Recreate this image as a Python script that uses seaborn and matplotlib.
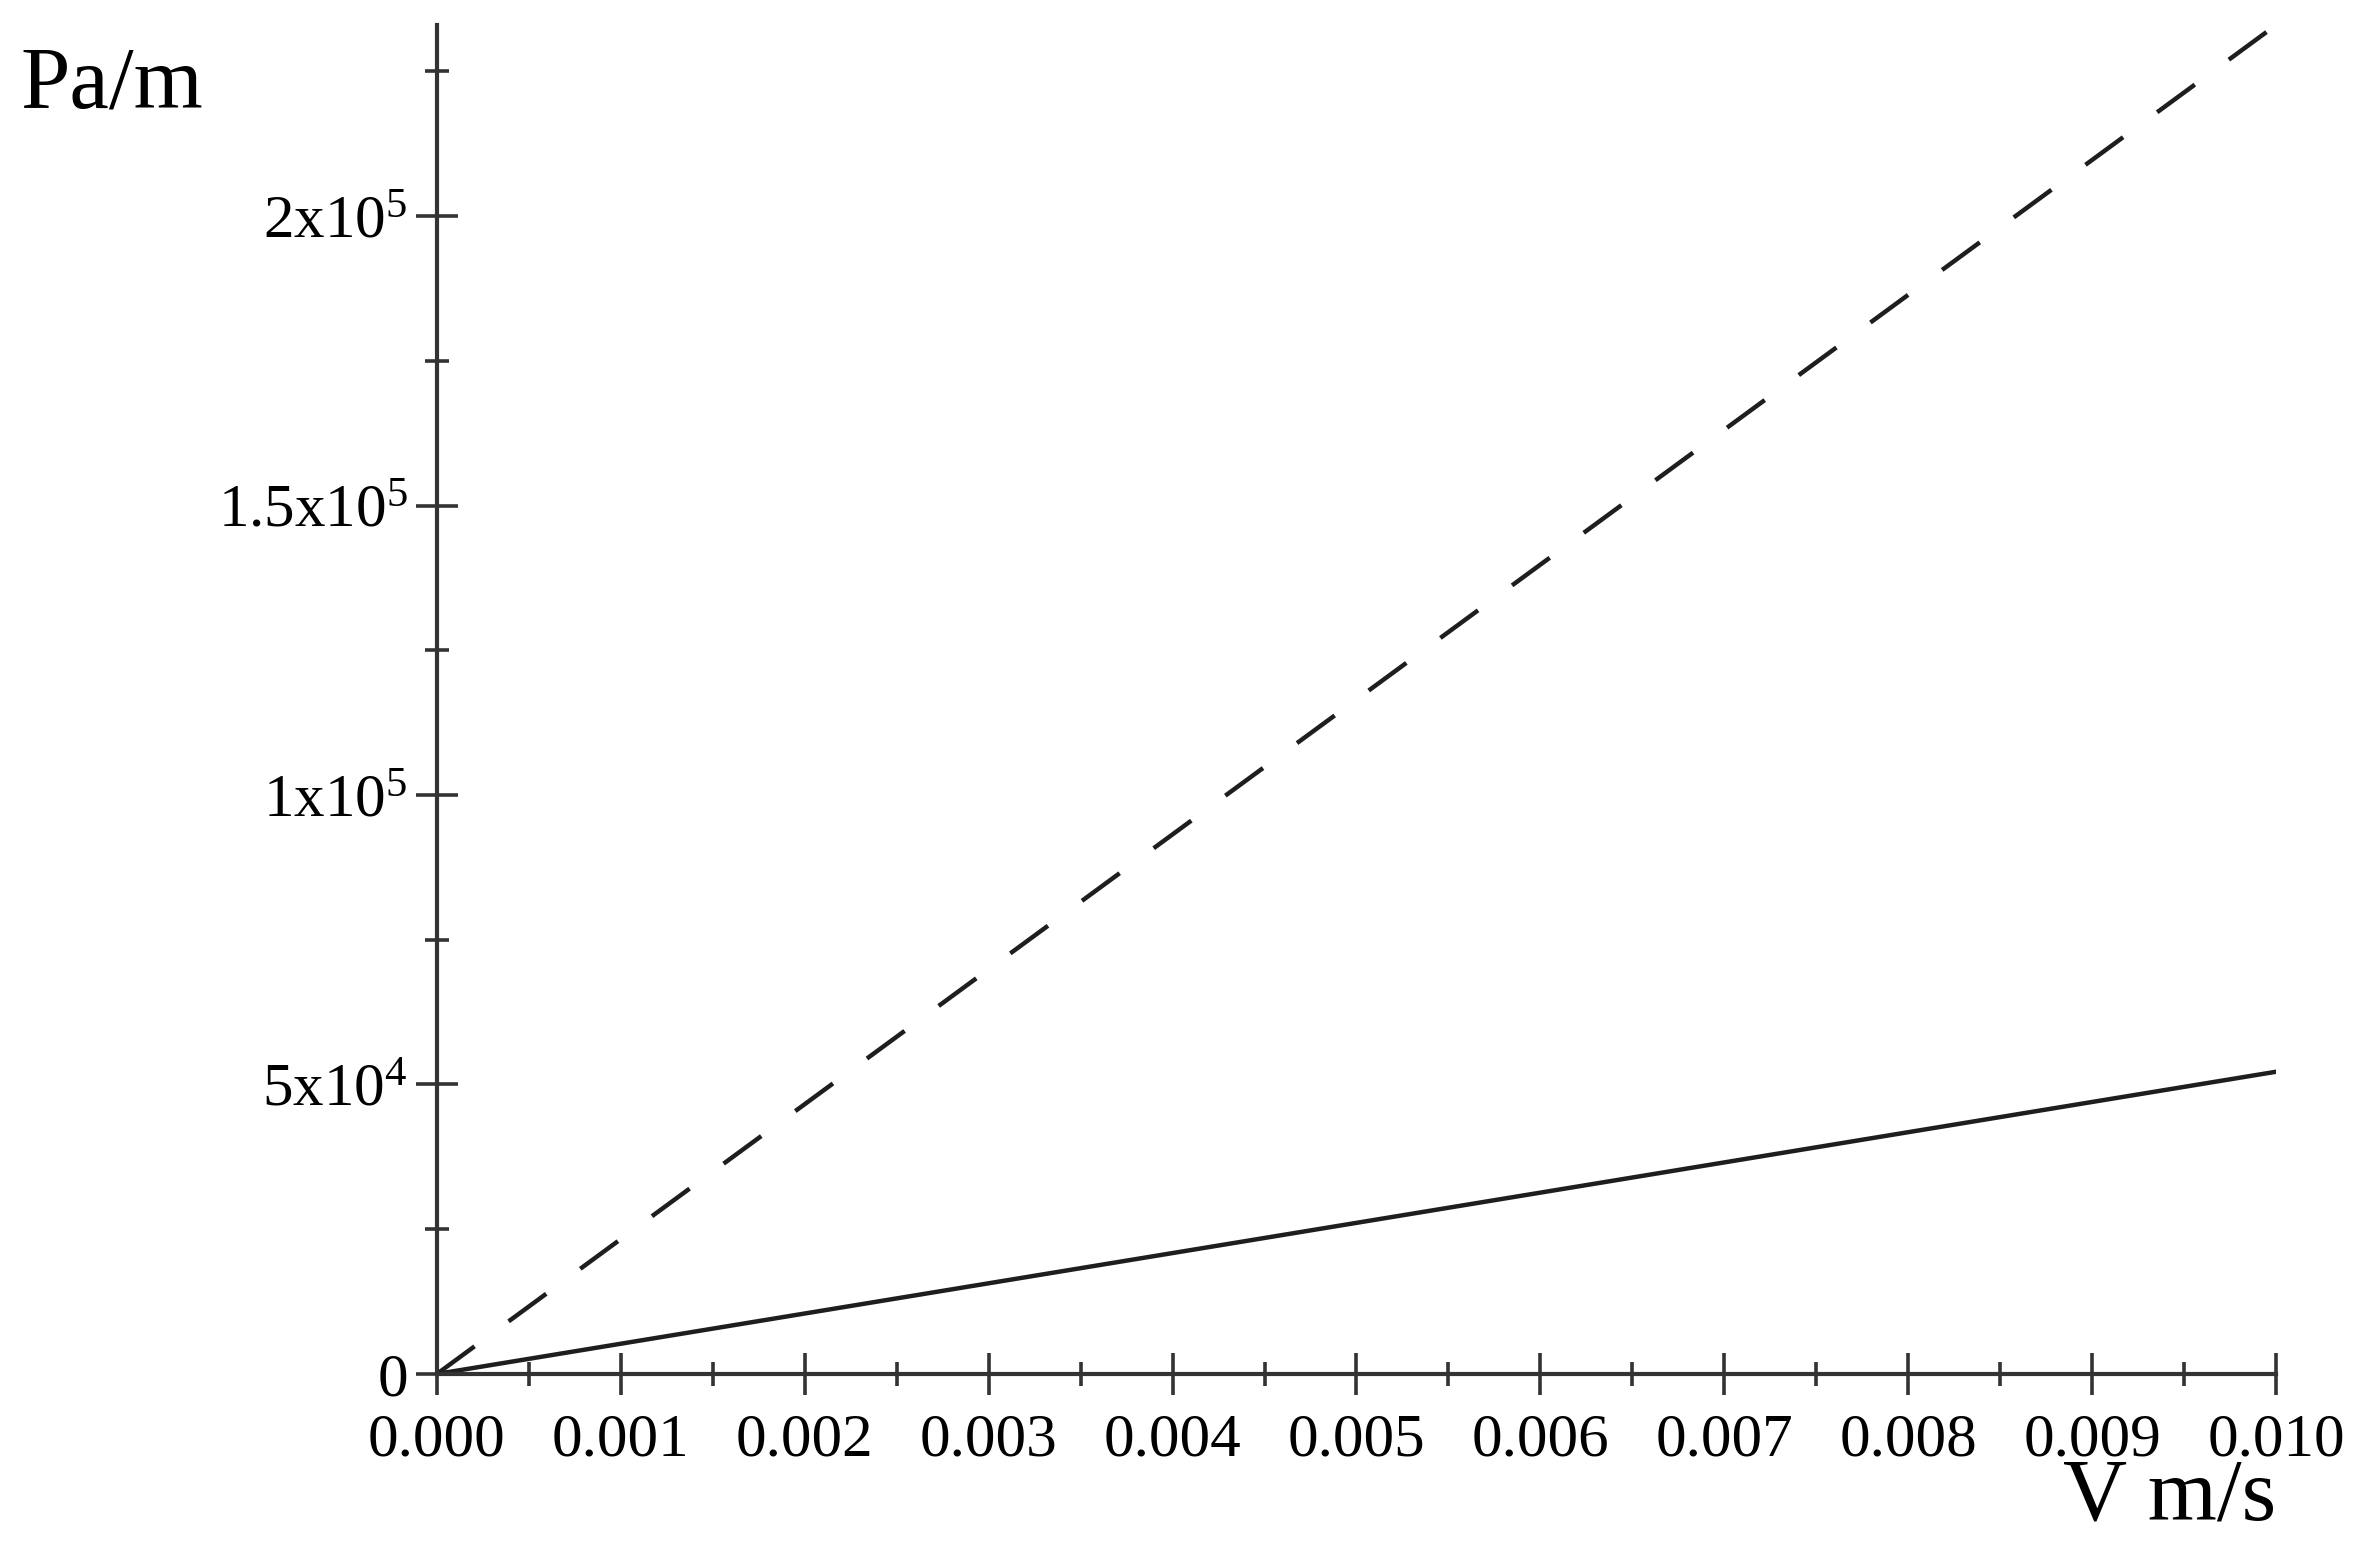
"""
Pressure gradient vs. superficial velocity - two straight-line curves.
"""
import numpy as np
import pandas as pd
import matplotlib
matplotlib.use("Agg")
import matplotlib.pyplot as plt
from matplotlib.ticker import MultipleLocator, FixedLocator, FixedFormatter
import seaborn as sns

# values
velocity = [0.0, 0.005, 0.010]                 # V, m/s
grad_solid = [0.0, 26100.0, 52200.0]           # Pa/m, solid curve
grad_dashed = [0.0, 116500.0, 233000.0]        # Pa/m, dashed curve

x_ticks = [0.000, 0.001, 0.002, 0.003, 0.004, 0.005, 0.006, 0.007, 0.008, 0.009, 0.010]
x_tick_labels = ['0.000', '0.001', '0.002', '0.003', '0.004', '0.005',
                 '0.006', '0.007', '0.008', '0.009', '0.010']
y_ticks = [0, 50000, 100000, 150000, 200000]
y_tick_labels = ['0', r'$5\mathrm{x}10^{4}$', r'$1\mathrm{x}10^{5}$',
                 r'$1.5\mathrm{x}10^{5}$', r'$2\mathrm{x}10^{5}$']

sns.set_theme(style='ticks')
plt.rcParams['font.family'] = ['Liberation Serif', 'DejaVu Serif']
plt.rcParams['mathtext.fontset'] = 'custom'
plt.rcParams['mathtext.rm'] = 'Liberation Serif'
plt.rcParams['mathtext.it'] = 'Liberation Serif:italic'
plt.rcParams['mathtext.bf'] = 'Liberation Serif:bold'

df = pd.DataFrame({'V': velocity, 'solid': grad_solid, 'dashed': grad_dashed})

fig = plt.figure(figsize=(23.63, 15.56), dpi=100)
ax = fig.add_axes([0.1849, 0.1170, 0.9632 - 0.1849, 0.9839 - 0.1170])

line_col = '#1e1e1e'
sns.lineplot(data=df, x='V', y='solid', ax=ax, color=line_col, linewidth=3.2)
sns.lineplot(data=df, x='V', y='dashed', ax=ax, color=line_col, linewidth=3.2,
             linestyle=(0, (10.5, 9.5)))

ax.set_xlim(0, 0.010)
ax.set_ylim(0, 233000)

ax.xaxis.set_major_locator(FixedLocator(x_ticks))
ax.xaxis.set_major_formatter(FixedFormatter(x_tick_labels))
ax.xaxis.set_minor_locator(MultipleLocator(0.0005))
ax.yaxis.set_major_locator(FixedLocator(y_ticks))
ax.yaxis.set_major_formatter(FixedFormatter(y_tick_labels))
ax.yaxis.set_minor_locator(MultipleLocator(25000))

for s in ['top', 'right']:
    ax.spines[s].set_visible(False)
for s in ['left', 'bottom']:
    ax.spines[s].set_linewidth(3.0)
    ax.spines[s].set_color('#333333')

ax.tick_params(which='major', direction='inout', length=30, width=2.6,
               color='#333333', labelsize=44, labelcolor='black')
ax.tick_params(which='minor', direction='inout', length=17, width=2.6,
               color='#333333')
ax.tick_params(axis='x', which='major', pad=13)
ax.tick_params(axis='y', which='major', pad=6)

ax.set_xlabel('V m/s', fontsize=64, color='black', ha='right', va='baseline')
ax.xaxis.set_label_coords(1.0, -0.108)
ax.set_ylabel('Pa/m', fontsize=64, color='black', rotation=0, ha='left', va='baseline')
ax.yaxis.set_label_coords(-0.2266, 0.9392)

ax.set_facecolor('white')
fig.patch.set_facecolor('white')
for lbl in ax.get_xticklabels() + ax.get_yticklabels():
    lbl.set_clip_on(False)

plt.savefig('out.png', dpi=100, facecolor='white')
plt.close()
